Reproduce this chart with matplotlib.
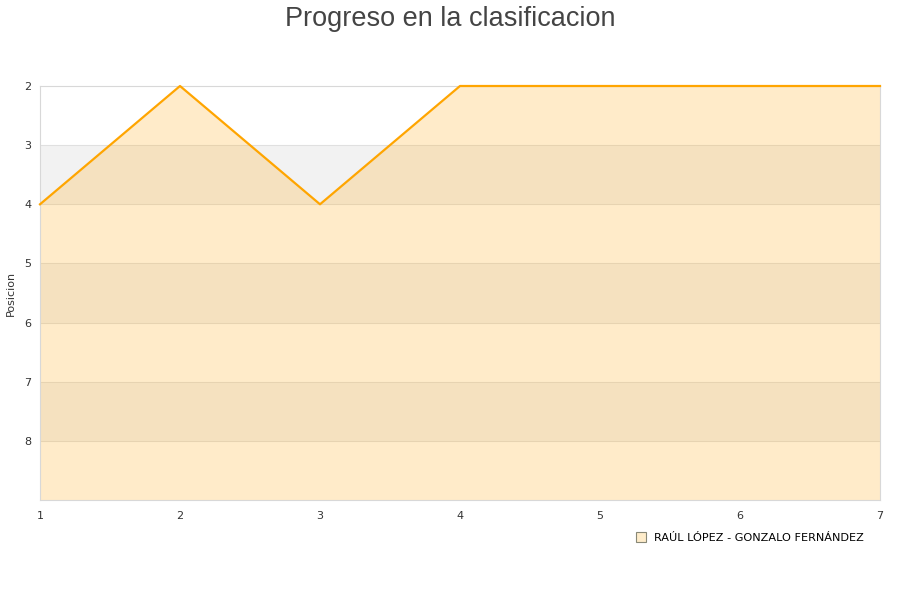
import matplotlib.pyplot as plt
from matplotlib.lines import Line2D

# datos de la clasificacion
jornadas = [1, 2, 3, 4, 5, 6, 7]
posiciones = [4, 2, 4, 2, 2, 2, 2]
equipo = "RAÚL LÓPEZ - GONZALO FERNÁNDEZ"
y_ticks = [2, 3, 4, 5, 6, 7, 8]

fig = plt.figure(figsize=(9, 6), dpi=100)
ax = fig.add_axes([40 / 900, 1 - 500 / 600, 840 / 900, 414 / 600])

# bandas alternas de fondo
for i, y in enumerate(range(2, 9)):
    color = "#ffffff" if i % 2 == 0 else "#f2f2f2"
    ax.axhspan(y, y + 1, color=color, zorder=0, lw=0)
for y in y_ticks[1:]:
    ax.axhline(y, color="#e0e0e0", lw=0.8, zorder=1)

ax.fill_between(jornadas, posiciones, 9, color="#ffac19", alpha=0.23, lw=0, zorder=2)
ax.plot(jornadas, posiciones, color="#ffa500", lw=1.6, zorder=3, clip_on=False)

ax.set_xlim(1, 7)
ax.set_ylim(9, 2)
ax.set_yticks(y_ticks)
ax.set_xticks(jornadas)
ax.tick_params(axis="x", length=0, labelsize=8, colors="#333333", pad=8)
ax.tick_params(axis="y", length=0, labelsize=8, colors="#333333", pad=6)
for s in ax.spines.values():
    s.set_color("#d8d8d8")
ax.set_ylabel("Posicion", fontsize=8, color="#333333", labelpad=6)

fig.suptitle("Progreso en la clasificacion", x=0.5, y=0.99, fontsize=19.5,
             color="#444444", family="Liberation Sans")

handle = Line2D([], [], marker="s", ls="", markersize=7,
                markerfacecolor="#feecca", markeredgecolor="#888877", markeredgewidth=0.8)
fig.legend([handle], [equipo], loc="center", bbox_to_anchor=(747 / 900, 1 - 538 / 600),
           frameon=False, fontsize=8.1, handletextpad=0.15, borderpad=0)

fig.savefig("out.png", dpi=100)
